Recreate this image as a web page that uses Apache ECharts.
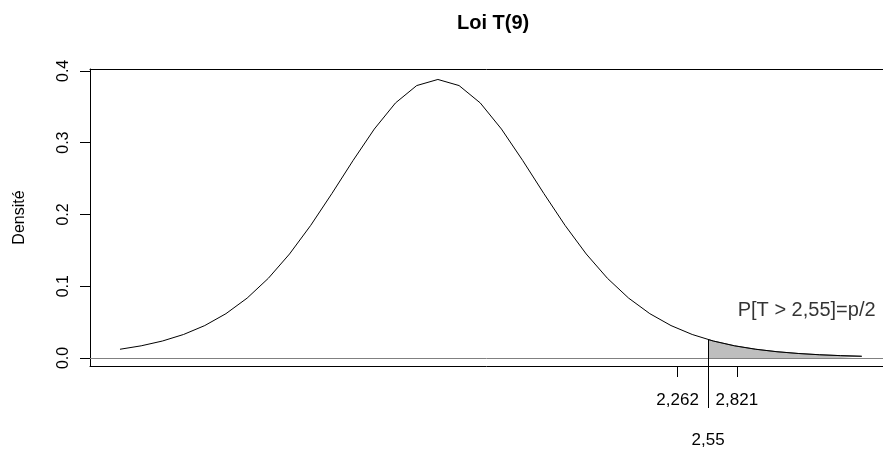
<!DOCTYPE html>
<html>
<head>
<meta charset="utf-8">
<script src="https://cdn.jsdelivr.net/npm/echarts@6/dist/echarts.min.js"></script>
<style>html,body{margin:0;padding:0;background:#fff;}#c{width:883px;height:449px;}</style>
</head>
<body>
<div id="c"></div>
<script>
// Student t(9) density
var tValues = [-3.0,-2.8,-2.6,-2.4,-2.2,-2.0,-1.8,-1.6,-1.4,-1.2,-1.0,-0.8,-0.6,-0.4,-0.2,0.0,
               0.2,0.4,0.6,0.8,1.0,1.2,1.4,1.6,1.8,2.0,2.2,2.4,2.6,2.8,3.0,3.2,3.4,3.6,3.8,4.0];
var density = [0.01213,0.01692,0.02357,0.03271,0.04512,0.06172,0.08340,0.11099,0.14488,0.18475,0.22913,0.27524,0.31893,0.35530,0.37952,0.38803,
               0.37952,0.35530,0.31893,0.27524,0.22913,0.18475,0.14488,0.11099,0.08340,0.06172,0.04512,0.03271,0.02357,0.01692,0.01213,0.00869,0.00624,0.00449,0.00324,0.00235];
// shaded tail P[T > 2.55]
var shadeX = [2.55,2.6,2.8,3.0,3.2,3.4,3.6,3.8,4.0];
var shadeY = [0.02559,0.02357,0.01692,0.01213,0.00869,0.00624,0.00449,0.00324,0.00235];
var cutoff = 2.55;
var cutoffDensity = 0.02559;
var criticalTicks = [2.262, 2.821];
var yTicks = [0, 0.1, 0.2, 0.3, 0.4];
var annotation = {x: 3.48, y: 0.0655, text: 'P[T > 2,55]=p/2'};
var titleText = 'Loi T(9)';
var yName = 'Densité';

var xMin = -3.283, xMax = 4.2006, yMin = -0.0112, yMax = 0.4026;
function pairs(xs, ys){ return xs.map(function(x,i){ return [x, ys[i]]; }); }
function comma(v){ return String(v).replace('.', ','); }
var FONT = 'Liberation Sans, Arial, sans-serif';
var BLACK_LINE = {show: true, onZero: false, lineStyle: {color: '#000', width: 1}};

var chart = echarts.init(document.getElementById('c'), null, {renderer:'canvas'});
chart.setOption({
  animation: false,
  backgroundColor: '#fff',
  textStyle: {fontFamily: FONT},
  title: {
    text: titleText, left: 452, top: 8,
    textStyle: {fontSize: 20, fontWeight: 'bold', color: '#000', fontFamily: FONT}
  },
  grid: {left: 90, top: 69, right: 0, bottom: 81.7, show: false},
  xAxis: [{
    type: 'value', min: xMin, max: xMax, position: 'bottom',
    axisLine: BLACK_LINE,
    splitLine: {show: false},
    axisTick: {show: true, customValues: criticalTicks, length: 11, lineStyle: {color: '#000', width: 1}},
    axisLabel: {show: true, customValues: criticalTicks, margin: 26, fontSize: 17, color: '#000', fontFamily: FONT, formatter: comma}
  }, {
    type: 'value', min: xMin, max: xMax, position: 'bottom',
    axisLine: {show: false, onZero: false},
    splitLine: {show: false},
    axisTick: {show: true, customValues: [cutoff], length: 42, lineStyle: {color: '#000', width: 1}},
    axisLabel: {show: true, customValues: [cutoff], margin: 66, fontSize: 17, color: '#000', fontFamily: FONT, formatter: comma}
  }, {
    type: 'value', min: xMin, max: xMax, position: 'top',
    axisLine: BLACK_LINE,
    splitLine: {show: false},
    axisTick: {show: false},
    axisLabel: {show: false}
  }],
  yAxis: {
    type: 'value', min: yMin, max: yMax,
    name: yName, nameLocation: 'middle', nameRotate: 90, nameGap: 62,
    nameTextStyle: {fontSize: 16, color: '#000', fontFamily: FONT},
    axisLine: BLACK_LINE,
    splitLine: {show: false},
    axisTick: {show: true, customValues: yTicks, length: 10, lineStyle: {color: '#000', width: 1}},
    axisLabel: {show: true, customValues: yTicks, rotate: 90, margin: 18, fontSize: 16, color: '#000', fontFamily: FONT,
      formatter: function(v){ return v.toFixed(1); }}
  },
  series: [{
    type: 'line', data: pairs(shadeX, shadeY), symbol: 'none', z: 1,
    lineStyle: {color: '#555', width: 1},
    areaStyle: {color: '#bebebe', opacity: 1, origin: 0}
  }, {
    type: 'line', data: pairs(tValues, density), symbol: 'none', z: 3,
    lineStyle: {color: '#000', width: 1},
    markLine: {
      silent: true, symbol: 'none', label: {show: false},
      data: [
        [{coord: [xMin, 0], lineStyle: {color: '#808080', width: 1, type: 'solid'}}, {coord: [xMax, 0]}],
        [{coord: [cutoff, yMin], lineStyle: {color: '#000', width: 1, type: 'solid'}}, {coord: [cutoff, cutoffDensity]}]
      ]
    }
  }, {
    type: 'scatter', data: [[annotation.x, annotation.y]], symbolSize: 0, z: 4,
    label: {show: true, position: 'inside', formatter: annotation.text, fontSize: 20, color: '#000', fontFamily: FONT}
  }]
});
</script>
</body>
</html>
